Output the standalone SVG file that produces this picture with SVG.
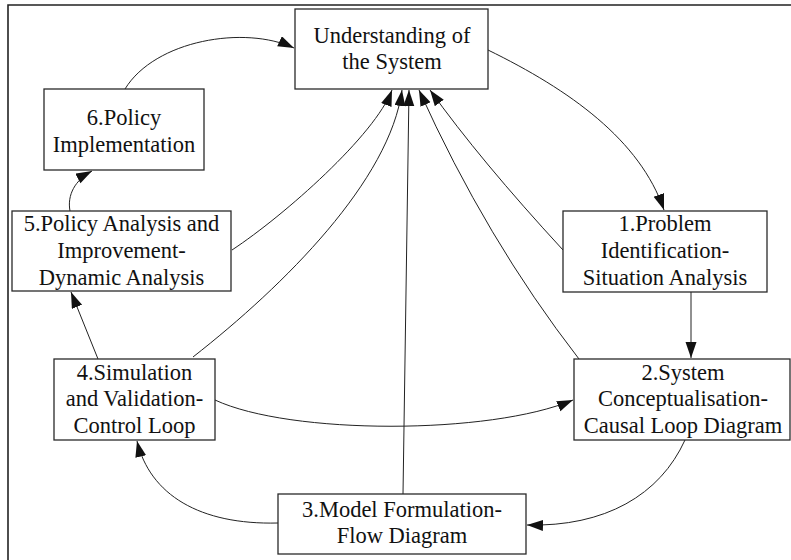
<svg xmlns="http://www.w3.org/2000/svg" width="791" height="560" viewBox="0 0 791 560">
<style>
.box{fill:#fff;stroke:#2a2a2a;stroke-width:1.3}
text{font-family:'Liberation Serif','Times New Roman',Times,serif;font-size:22.5px;fill:#111;text-anchor:middle}
.c{fill:none;stroke:#222;stroke-width:1;marker-end:url(#ah)}
.frame{stroke:#222;stroke-width:1.6;fill:none}
</style>
<defs>
<marker id="ah" markerUnits="userSpaceOnUse" markerWidth="17" markerHeight="12" refX="16" refY="5.5" orient="auto">
<path d="M0,0 L16,5.5 L0,11 z" fill="#111"/>
</marker>
</defs>
<rect width="791" height="560" fill="#fff"/>
<path class="frame" d="M8,560 L8,5 L791,5"/>
<g id="connectors">
<path class="c" d="M488,50 C570,90 640,140 664,210"/>
<path class="c" d="M691,292 L691,358"/>
<path class="c" d="M685,440 C660,495 605,527 527,525"/>
<path class="c" d="M278,523 C200,525 150,495 137,441"/>
<path class="c" d="M215,400 C290,435 490,435 573,400"/>
<path class="c" d="M98,359 L71,292"/>
<path class="c" d="M70,211 C67,195 75,180 92,171"/>
<path class="c" d="M125,89 C155,40 245,25 294,48"/>
<path class="c" d="M232,250 C285,215 375,135 392,90"/>
<path class="c" d="M193,357 C285,285 390,180 402,90"/>
<path class="c" d="M403,494 L409,90"/>
<path class="c" d="M579,359 Q486,239 419,90"/>
<path class="c" d="M563,250 Q480,160 430,90"/>
</g>
<g id="n0">
<rect class="box" x="295" y="9" width="193" height="80"/>
<text x="392" y="43" font-family="Liberation Serif, serif">Understanding of</text>
<text x="392" y="69" font-family="Liberation Serif, serif">the System</text>
</g>
<g id="n6">
<rect class="box" x="44" y="89" width="160" height="81"/>
<text x="124" y="125">6.Policy</text>
<text x="124" y="152">Implementation</text>
</g>
<g id="n5">
<rect class="box" x="12" y="211" width="219" height="80"/>
<text x="121.5" y="231">5.Policy Analysis and</text>
<text x="121.5" y="258">Improvement-</text>
<text x="121.5" y="285">Dynamic Analysis</text>
</g>
<g id="n1">
<rect class="box" x="563" y="211" width="204" height="81"/>
<text x="665" y="231">1.Problem</text>
<text x="665" y="258">Identification-</text>
<text x="665" y="285">Situation Analysis</text>
</g>
<g id="n4">
<rect class="box" x="54" y="359" width="161" height="81"/>
<text x="134.5" y="380">4.Simulation</text>
<text x="134.5" y="406">and Validation-</text>
<text x="134.5" y="433">Control Loop</text>
</g>
<g id="n2">
<rect class="box" x="574" y="359" width="216" height="81"/>
<text x="683" y="380">2.System</text>
<text x="683" y="406">Conceptualisation-</text>
<text x="683" y="433">Causal Loop Diagram</text>
</g>
<g id="n3">
<rect class="box" x="278" y="494" width="248" height="60"/>
<text x="402" y="517">3.Model Formulation-</text>
<text x="402" y="543">Flow Diagram</text>
</g>
</svg>
